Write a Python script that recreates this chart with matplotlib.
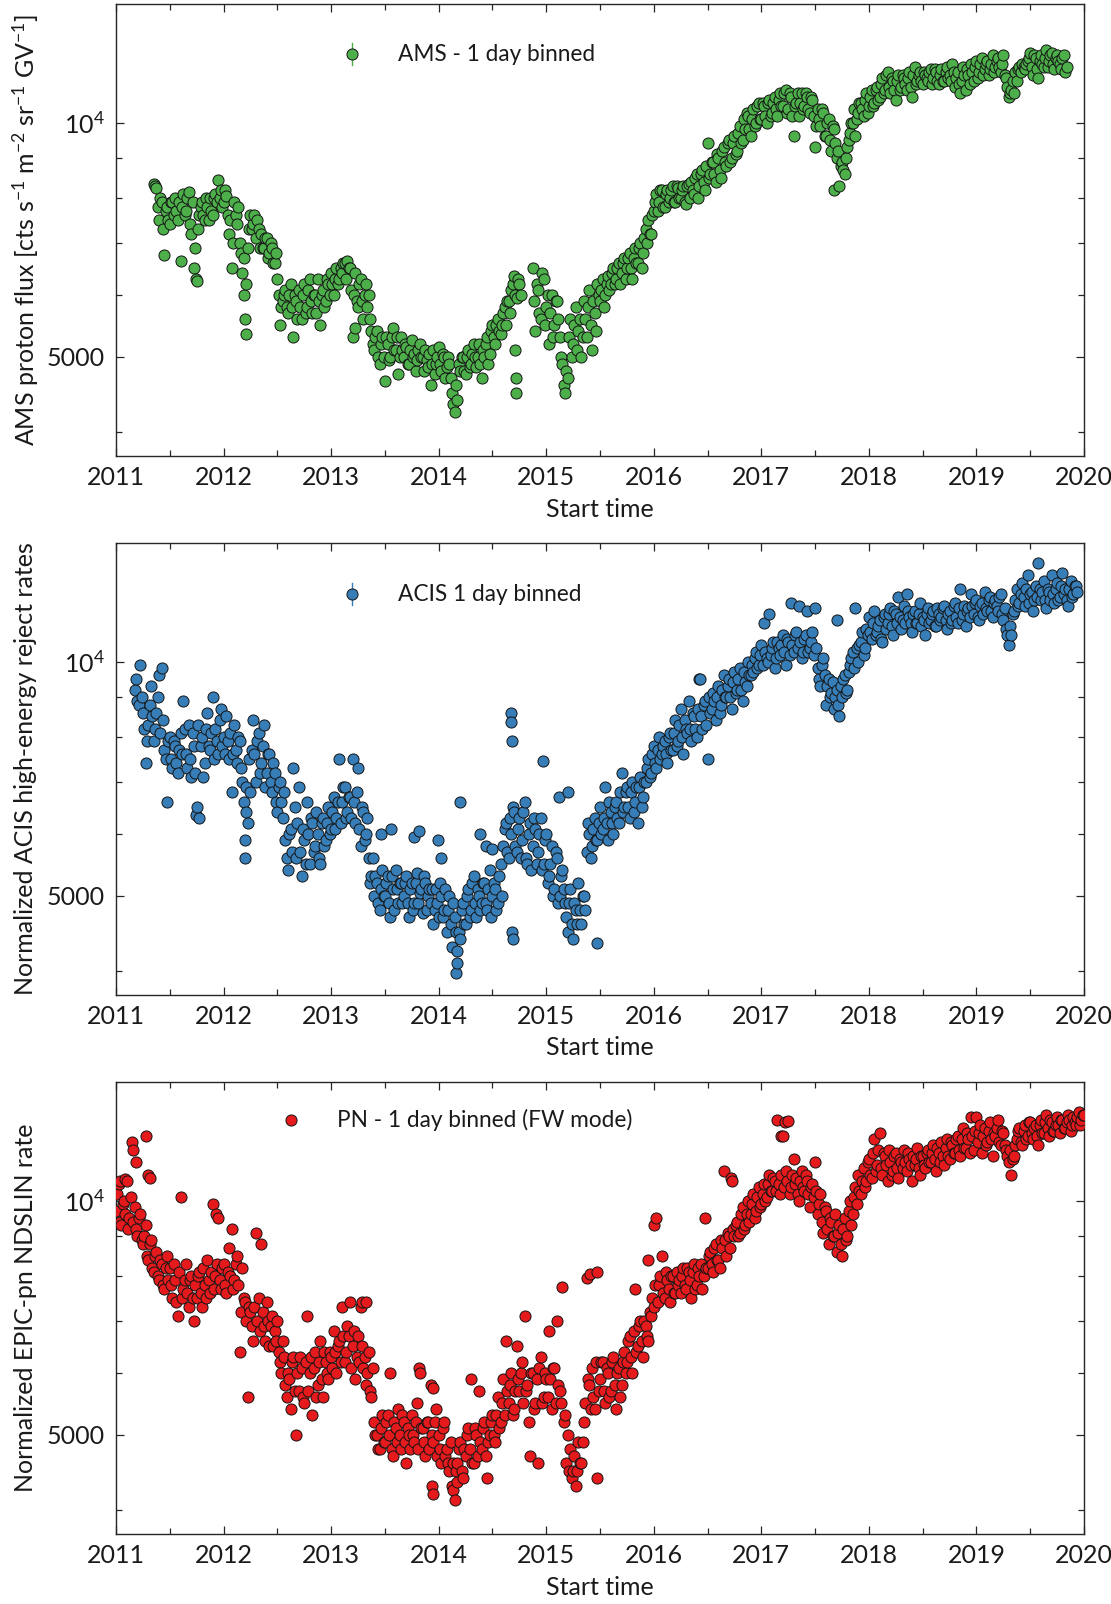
import numpy as np
import matplotlib
matplotlib.use("Agg")
import matplotlib.pyplot as plt
from matplotlib.ticker import FixedLocator, FixedFormatter, NullFormatter

plt.rcParams['font.family'] = ['Lato', 'DejaVu Sans']
plt.rcParams['mathtext.fontset'] = 'custom'
plt.rcParams['mathtext.rm'] = 'Lato'
plt.rcParams['mathtext.it'] = 'Lato:italic'
plt.rcParams['mathtext.bf'] = 'Lato:bold'

# Sampling step of the binned series (years); the *_B samples sit half a step later
STEP = 0.025
YEARS = list(range(2011, 2021))

# AMS proton flux, in thousands of cts s^-1 m^-2 sr^-1 GV^-1, starting 2011.35
AMS_START = 2011.35
AMS_FLUX_K = [
    8.35, 8.25, 7.5, 7.9, 6.75, 7.8, 7.4, 7.9, 8.0, 7.5,
    6.65, 8.1, 7.7, 8.15, 7.2, 6.5, 6.25, 7.6, 7.9, 7.5,
    7.8, 8.0, 7.6, 8.1, 8.45, 8.2, 7.9, 8.05, 7.2, 6.5,
    7.9, 7.4, 7.0, 6.4, 5.6, 6.9, 7.6, 7.4, 7.1, 7.3,
    7.2, 6.9, 7.1, 6.8, 6.9, 6.6, 6.3, 5.5, 5.9, 6.1,
    5.7, 6.2, 5.3, 5.9, 6.1, 5.6, 6.2, 5.8, 6.3, 5.7,
    6.0, 6.3, 5.5, 6.1, 5.9, 6.2, 6.4, 6.0, 6.5, 6.3,
    6.4, 6.6, 6.65, 6.5, 5.3, 6.4, 5.8, 6.3, 5.6, 6.2,
    6.0, 5.4, 5.1, 5.4, 4.9, 5.3, 4.65, 5.2, 5.0, 5.45,
    5.1, 4.75, 5.3, 5.0, 5.15, 4.9, 5.25, 5.05, 4.95, 5.2,
    5.0, 5.1, 4.85, 4.6, 5.1, 4.9, 5.15, 4.8, 5.0, 4.85,
    4.9, 4.5, 4.25, 4.4, 4.8, 5.0, 4.75, 5.1, 4.9, 5.2,
    4.85, 5.2, 4.7, 5.0, 5.3, 5.05, 5.5, 5.2, 5.6, 5.35,
    5.7, 5.5, 5.9, 6.1, 6.35, 5.95, 6.2, np.nan, np.nan, np.nan,
    np.nan, 6.5, 5.4, 6.1, 5.6, 6.3, 5.8, 5.2, 6.0, 5.5,
    5.9, 5.3, 4.9, 4.5, 4.7, 5.6, 5.2, 5.8, 5.4, 5.0,
    5.9, 5.3, 6.1, 5.1, 5.7, 6.2, 5.9, 6.3, 6.0, 6.35,
    6.2, 6.5, 6.3, 6.6, 6.4, 6.7, 6.5, 6.8, 6.3, 6.9,
    6.6, 7.0, 6.8, 7.3, 7.5, 7.2, 7.7, 8.1, 7.9, 8.2,
    7.8, 8.2, 8.0, 8.3, 7.9, 8.25, 8.0, 8.3, 7.85, 8.35,
    8.4, 8.1, 8.6, 8.3, 8.7, 8.2, 9.4, 8.6, 8.9, 8.4,
    9.0, 8.5, 9.3, 8.8, 9.5, 9.0, 9.6, 9.2, 9.9, 9.5,
    9.8, 10.2, 9.6, 10.4, 10.0, 10.6, 10.1, 10.5, 10.0, 10.7,
    10.3, 10.8, 10.2, 10.9, 10.5, 11.0, 10.4, 10.8, 9.6, 10.6,
    10.2, 10.9, 10.5, 10.8, 10.3, 10.7, 9.3, 10.4, 9.9, 10.3,
    9.6, 10.1, 9.2, 9.8, 9.0, 8.3, 8.9, 8.6, 9.3, 9.7,
    10.0, 9.6, 10.3, 10.6, 10.2, 10.9, 10.5, 11.0, 10.6, 11.1,
    10.8, 11.4, 11.0, 11.6, 10.9, 11.3, 10.7, 11.5, 11.1, 11.4,
    11.0, 11.6, 10.8, 11.8, 11.3, 11.6, 11.2, 11.5, 11.3, 11.7,
    11.4, 11.6, 11.2, 11.7, 11.3, 11.8, 11.5, 11.9, 11.1, 11.6,
    10.9, 11.8, 11.0, 11.5, 11.9, 11.3, 12.0, 11.6, 12.1, 11.7,
    12.0, 11.7, 12.2, 11.8, 12.1, 11.6, 12.2, 11.4, 10.8, 11.0,
    10.9, 11.3, 11.8, 11.9, 11.7, 12.0, 12.3, 11.5, 12.1, 11.4,
    12.2, 11.8, 12.4, 12.0, 12.3, 11.7, 12.2, 11.9, 12.1, 11.6,
]
AMS_FLUX_K_B = [
    8.3, 7.8, 8.0, 7.3, 7.7, 7.5, 7.9, 7.6, 7.7, 7.9,
    7.8, 7.6, 8.0, 7.4, 7.9, 6.9, 7.3, 7.8, 7.6, 8.0,
    7.5, 7.7, 8.0, 7.9, 8.0, 7.8, 8.2, 7.6, 7.5, 7.0,
    7.6, 7.8, 6.8, 6.7, 6.2, 7.3, 7.3, 7.6, 7.5, 6.9,
    6.9, 7.1, 6.7, 7.0, 6.6, 6.8, 6.0, 5.8, 6.0, 5.8,
    6.0, 5.8, 6.0, 5.6, 5.8, 6.0, 5.7, 6.1, 5.9, 6.0,
    5.7, 5.9, 6.0, 5.8, 6.3, 6.0, 6.2, 6.3, 6.2, 6.5,
    6.6, 6.3, 6.5, 6.1, 6.0, 5.9, 6.2, 5.9, 6.0, 5.8,
    5.6, 5.2, 5.3, 5.0, 5.2, 5.0, 5.3, 4.95, 5.3, 5.1,
    5.3, 5.0, 5.1, 5.2, 4.9, 5.1, 5.0, 4.8, 5.1, 5.0,
    4.8, 4.95, 5.05, 4.9, 4.75, 5.0, 4.9, 5.05, 4.7, 5.0,
    4.7, 4.35, 4.6, 4.9, 5.0, 4.8, 5.0, 4.85, 5.05, 5.0,
    5.0, 4.9, 5.1, 5.2, 4.9, 5.4, 5.3, 5.5, 5.4, 5.5,
    5.8, 5.9, 5.7, 6.2, 6.0, 6.3, 6.0, np.nan, np.nan, np.nan,
    np.nan, 5.9, 6.2, 5.7, 6.4, 5.5, 6.0, 5.7, 5.3, 5.9,
    5.6, 5.0, 4.6, 4.8, 5.3, 5.0, 5.5, 5.1, 5.6, 5.3,
    5.6, 5.8, 5.5, 5.9, 5.4, 6.0, 6.1, 5.8, 6.2, 6.1,
    6.4, 6.2, 6.5, 6.2, 6.6, 6.3, 6.7, 6.5, 6.7, 6.6,
    6.9, 6.5, 7.1, 7.0, 7.2, 7.6, 7.9, 7.7, 8.2, 7.8,
    8.1, 7.9, 8.2, 7.9, 8.3, 8.0, 8.2, 7.9, 8.3, 8.0,
    8.2, 8.5, 8.0, 8.6, 8.4, 8.8, 8.5, 8.9, 8.6, 9.1,
    8.7, 9.2, 8.9, 9.4, 8.9, 9.4, 9.1, 9.7, 9.4, 10.1,
    10.3, 9.8, 10.1, 9.9, 10.5, 10.1, 10.6, 10.2, 10.6, 10.2,
    10.6, 10.4, 10.7, 10.5, 10.9, 10.3, 10.9, 10.2, 10.5, 10.9,
    10.6, 10.4, 10.9, 10.4, 10.8, 10.2, 9.9, 10.1, 10.4, 9.6,
    10.0, 9.5, 9.9, 9.4, 9.2, 8.8, 8.7, 9.0, 9.5, 10.0,
    10.4, 10.1, 10.6, 10.4, 10.7, 10.3, 10.8, 10.5, 11.0, 10.7,
    11.2, 10.9, 11.5, 11.1, 11.4, 11.0, 11.3, 11.0, 11.5, 11.2,
    11.4, 11.1, 11.5, 11.2, 11.5, 11.3, 11.6, 11.4, 11.6, 11.2,
    11.7, 11.3, 11.5, 11.3, 11.6, 11.4, 11.3, 11.6, 11.4, 11.2,
    11.3, 11.5, 11.7, 11.2, 11.6, 11.8, 11.4, 11.9, 11.5, 11.9,
    11.5, 11.9, 11.6, 12.0, 11.8, 11.9, 11.5, 11.1, 10.9, 11.3,
    11.6, 11.7, 11.6, 11.8, 11.9, 12.1, 11.8, 12.2, 11.7, 12.0,
    11.9, 12.1, 11.8, 12.2, 11.9, 12.1, 12.0, 11.7, 12.2, 11.8,
]
AMS_EXTRA_T = [2011.74, 2012.19, 2012.21, 2013.22, 2014.71, 2014.72, 2014.72, 2017.68]
AMS_EXTRA_K = [6.3, 6.0, 5.35, 5.45, 5.1, 4.7, 4.5, 8.2]

# ACIS high-energy reject rate (normalized, thousands), starting 2011.175
ACIS_START = 2011.175
ACIS_RATE_K = [
    9.2, 8.9, 9.9, 8.6, 7.4, 8.3, 9.3, 7.9, 8.6, 9.6,
    9.8, 7.7, 6.6, 8.0, 7.3, 7.8, 7.2, 8.1, 8.9, 7.6,
    8.3, 7.1, 7.8, 6.5, 6.3, 8.0, 7.4, 8.6, 7.7, 9.0,
    8.2, 7.6, 8.7, 8.0, 8.5, 7.5, 6.8, 8.3, 7.4, 7.9,
    7.0, 5.6, 6.2, 6.8, 8.4, 7.0, 8.1, 7.4, 8.3, 7.2,
    7.6, 6.8, 7.2, 6.4, 7.0, 6.3, 5.9, 5.4, 6.1, 7.3,
    5.6, 6.9, 5.3, 5.9, 6.6, 5.5, 6.2, 5.8, 6.0, 5.5,
    6.3, 5.9, 6.5, 6.1, 6.7, 6.3, 7.5, 6.6, 6.9, 6.4,
    6.7, 7.5, 6.2, 7.3, 5.8, 6.4, 6.0, 5.6, 5.3, 5.0,
    5.2, 4.8, 5.4, 5.0, 5.3, 4.7, 5.1, 5.4, 4.9, 5.2,
    5.0, 5.3, 4.7, 5.2, 4.9, 5.35, 5.05, 4.75, 5.2, 5.0,
    4.9, 4.6, 5.1, 4.7, 5.0, 4.8, 4.5, 5.0, 4.3, 4.7,
    4.1, 4.4, 4.9, 4.6, 5.1, 4.8, 5.3, 4.7, 5.0, 4.9,
    5.2, 4.8, 5.4, 5.0, 5.1, 4.9, 5.5, 5.8, 6.2, 5.6,
    6.0, 6.4, 5.7, 6.3, 5.9, 6.6, 5.5, 6.2, 5.8, 6.1,
    5.7, 6.3, 5.5, 6.0, 5.3, 5.8, 5.1, 5.6, 5.0, 5.4,
    4.9, 4.5, 5.1, 4.4, 4.8, 5.2, 4.6, 5.0, 5.7, 6.0,
    5.8, 6.3, 5.9, 6.5, 6.1, 6.9, 5.9, 6.4, 6.0, 6.6,
    6.2, 7.2, 6.5, 6.9, 6.3, 7.0, 6.6, 6.2, 7.1, 6.7,
    7.0, 7.5, 7.2, 7.8, 7.3, 8.0, 7.6, 7.9, 7.4, 8.1,
    7.7, 8.4, 7.9, 8.7, 7.6, 8.2, 8.9, 7.9, 8.5, 8.0,
    9.5, 8.2, 8.9, 7.5, 8.6, 9.1, 8.4, 9.3, 8.8, 9.6,
    9.0, 9.5, 8.7, 9.7, 9.2, 9.8, 8.9, 9.4, 10.0, 9.6,
    9.7, 10.3, 9.9, 10.5, 11.2, 10.1, 11.5, 10.4, 9.8, 10.6,
    10.2, 10.8, 9.9, 10.6, 11.9, 10.3, 10.9, 11.8, 10.1, 10.7,
    11.6, 10.4, 10.9, 11.7, 9.8, 9.3, 10.1, 8.8, 9.5, 9.1,
    8.7, 9.2, 8.5, 9.0, 9.6, 9.2, 9.9, 10.3, 11.7, 10.0,
    10.6, 10.2, 11.0, 11.4, 10.7, 11.6, 10.9, 11.3, 10.6, 11.5,
    11.2, 11.7, 10.8, 11.5, 12.1, 11.0, 11.8, 12.2, 11.4, 10.9,
    11.6, 11.2, 11.9, 11.4, 10.8, 11.7, 11.3, 11.6, 11.1, 11.5,
    11.4, 11.8, 11.0, 11.6, 11.3, 11.9, 11.2, 12.4, 11.5, 11.1,
    11.7, 12.2, 11.5, 12.0, 11.3, 11.9, 12.3, 11.6, 12.1, 11.4,
    12.0, 11.6, 12.2, 11.3, 11.0, 10.5, 10.8, 11.6, 12.4, 11.9,
    12.6, 11.8, 12.9, 12.2, 11.6, 12.5, 13.4, 12.0, 12.7, 11.7,
    12.3, 12.9, 11.9, 12.6, 12.1, 13.0, 12.4, 11.8, 12.7, 12.2,
    12.5,
]
ACIS_RATE_K_B = [
    9.5, 8.8, 9.0, 8.2, 7.9, 8.8, 8.5, 8.2, 9.0, 8.1,
    8.4, 7.5, 7.9, 7.5, 7.9, 7.4, 7.7, 7.6, 8.2, 7.3,
    7.5, 8.1, 7.2, 8.3, 7.8, 7.1, 8.2, 7.8, 8.1, 7.5,
    7.9, 8.4, 7.8, 7.6, 7.9, 8.1, 7.6, 7.7, 8.0, 7.3,
    6.6, 6.9, 7.5, 7.7, 7.6, 7.9, 7.2, 7.8, 6.9, 7.6,
    7.0, 7.4, 6.6, 6.9, 6.6, 6.8, 5.6, 6.0, 5.7, 6.5,
    6.2, 5.7, 6.1, 5.5, 6.0, 6.3, 5.7, 6.4, 5.6, 6.2,
    5.8, 6.2, 6.0, 6.4, 6.1, 6.6, 6.2, 6.9, 6.3, 6.7,
    6.3, 6.6, 6.8, 6.1, 6.5, 5.9, 6.3, 5.2, 5.6, 5.3,
    4.9, 5.1, 5.0, 5.2, 4.9, 5.3, 4.8, 5.1, 5.2, 4.9,
    5.2, 4.9, 5.1, 4.8, 5.2, 4.9, 5.1, 5.3, 4.8, 5.1,
    5.1, 4.8, 4.9, 5.2, 4.7, 5.1, 4.8, 4.6, 4.9, 4.5,
    4.5, 4.8, 4.6, 5.0, 4.7, 5.2, 4.9, 5.1, 4.8, 5.2,
    4.9, 5.1, 4.7, 5.2, 4.8, 5.3, 5.0, 6.1, 5.7, 6.3,
    6.5, 5.8, 6.1, 5.6, 6.4, 5.6, 6.0, 5.4, 6.3, 5.5,
    6.0, 5.4, 5.9, 5.2, 5.5, 5.0, 5.7, 4.9, 5.3, 5.1,
    4.7, 4.9, 4.6, 4.9, 4.6, 4.8, 5.0, 4.8, 6.2, 5.6,
    6.1, 5.9, 6.2, 6.0, 6.3, 6.2, 6.6, 6.2, 6.5, 6.3,
    6.8, 6.4, 6.8, 6.5, 6.8, 6.4, 6.9, 6.9, 6.5, 7.0,
    7.3, 7.1, 7.6, 7.4, 7.7, 7.5, 7.8, 7.6, 8.0, 7.7,
    8.1, 7.8, 8.3, 8.0, 8.4, 8.1, 8.2, 8.6, 8.2, 8.7,
    8.5, 8.8, 8.3, 9.0, 8.7, 8.9, 9.0, 8.6, 9.2, 9.0,
    9.3, 9.0, 9.4, 9.1, 9.5, 9.2, 9.7, 9.3, 9.6, 9.9,
    10.1, 9.8, 10.2, 9.9, 10.3, 10.0, 10.2, 10.6, 10.1, 10.4,
    10.5, 10.3, 10.7, 10.2, 10.5, 10.8, 10.4, 10.6, 10.3, 10.8,
    10.3, 10.6, 10.2, 10.4, 9.5, 9.9, 9.6, 9.3, 9.0, 9.4,
    9.0, 8.8, 9.3, 9.5, 9.1, 9.7, 10.1, 9.8, 10.4, 10.5,
    10.9, 10.4, 10.8, 10.9, 11.2, 10.8, 11.1, 10.7, 11.4, 11.0,
    11.5, 11.1, 11.6, 11.2, 11.4, 11.3, 11.2, 11.6, 11.2, 11.5,
    11.2, 11.5, 11.1, 11.3, 11.5, 11.2, 11.5, 11.1, 11.7, 11.3,
    11.7, 11.3, 11.5, 11.2, 11.8, 11.4, 11.7, 11.3, 11.8, 11.6,
    11.4, 11.8, 11.9, 11.4, 11.8, 11.5, 11.7, 12.0, 11.6, 11.9,
    11.8, 12.1, 11.5, 11.7, 10.8, 11.1, 11.5, 12.0, 11.8, 12.2,
    12.1, 12.4, 11.9, 12.3, 12.0, 12.1, 12.4, 12.3, 12.0, 12.4,
    12.0, 12.2, 12.4, 12.0, 12.5, 12.2, 12.0, 12.4, 12.1, 12.5,
    12.3,
]
ACIS_EXTRA_T = [2011.74, 2012.20, 2012.21, 2013.46, 2013.56, 2013.77, 2013.82,
                2013.99, 2014.02, 2014.16, 2014.17, 2014.20, 2014.38, 2014.44,
                2014.50, 2014.67, 2014.67, 2014.68, 2014.68, 2014.69, 2014.97,
                2015.12, 2015.20, 2015.47, 2016.43, 2017.70]
ACIS_EXTRA_K = [6.35, 5.9, 6.4, 6.0, 6.1, 5.95, 6.05,
                5.9, 5.6, 3.98, 4.25, 6.6, 6.0, 5.8,
                5.75, 8.6, 8.35, 7.9, 4.5, 4.4, 7.45,
                6.7, 6.8, 4.35, 9.5, 11.3]

# EPIC-pn NDSLIN rate (normalized, thousands), starting 2011.0
PN_START = 2011.0
PN_RATE_K = [
    9.7, 10.5, 9.3, 10.0, 10.6, 9.5, 11.9, 9.8, 9.0, 9.6,
    8.8, 9.3, 8.4, 8.9, 8.1, 8.6, 7.9, 8.3, 7.7, 8.5,
    8.2, 7.5, 7.9, 7.1, 10.1, 7.7, 8.3, 7.3, 8.0, 7.0,
    7.5, 8.1, 7.3, 7.8, 8.4, 7.6, 9.9, 8.0, 9.5, 7.7,
    8.3, 7.6, 8.7, 9.2, 7.9, 8.5, 6.4, 8.2, 7.4, 5.6,
    7.2, 6.6, 9.1, 7.5, 8.8, 6.9, 7.4, 6.5, 7.1, 6.8,
    7.0, 6.2, 6.6, 5.8, 6.0, 5.4, 6.3, 5.0, 5.7, 6.1,
    5.5, 7.1, 6.0, 5.3, 6.4, 5.8, 6.6, 5.6, 6.2, 5.9,
    6.3, 6.8, 6.0, 6.6, 7.3, 6.2, 6.9, 7.4, 6.5, 5.9,
    6.7, 7.3, 6.1, 5.8, 6.4, 5.6, 5.2, 5.0, 4.8, 5.3,
    4.9, 5.3, 6.0, 4.7, 5.1, 5.4, 4.8, 5.2, 4.6, 5.0,
    5.3, 4.9, 5.5, 6.0, 5.1, 4.7, 5.2, 5.8, 4.9, 5.4,
    5.0, 4.6, 5.2, 4.8, 4.5, 4.3, 4.13, 4.6, 4.9, 4.4,
    4.7, 5.1, 5.9, 4.6, 5.0, 5.7, 4.8, 5.2, 4.4, 5.0,
    5.3, 4.9, 5.6, 5.2, 5.9, 6.6, 5.5, 6.0, 5.4, 6.5,
    5.7, 6.2, 7.1, 5.8, 4.7, 6.0, 5.5, 4.6, 6.3, 5.6,
    5.9, 6.8, 5.4, 6.1, 7.0, 5.7, 7.75, 5.3, 5.0, 4.8,
    4.5, 4.3, 4.9, 4.6, 5.2, 7.95, 5.8, 6.1, 5.4, 8.1,
    5.9, 6.2, 5.5, 6.0, 5.7, 6.3, 5.4, 6.1, 5.8, 6.4,
    6.2, 6.7, 6.0, 7.7, 6.5, 7.0, 6.3, 6.9, 6.6, 7.1,
    7.3, 9.5, 7.8, 8.5, 7.5, 7.9, 7.4, 8.0, 7.6, 7.8,
    7.6, 8.2, 7.7, 8.1, 7.5, 8.3, 7.8, 8.0, 7.7, 9.5,
    8.2, 8.6, 8.1, 8.8, 8.4, 8.9, 10.9, 8.5, 9.0, 10.6,
    9.0, 9.4, 9.1, 9.8, 9.3, 10.0, 9.6, 10.2, 9.7, 10.4,
    9.9, 10.5, 10.1, 10.8, 10.3, 10.6, 12.7, 10.2, 12.1, 10.9,
    12.65, 10.4, 11.3, 10.7, 10.0, 10.9, 10.3, 10.6, 9.8, 10.5,
    11.2, 9.6, 10.2, 9.1, 9.7, 8.8, 9.4, 9.0, 8.6, 9.3,
    8.5, 9.5, 9.0, 10.0, 9.6, 10.4, 10.8, 10.2, 11.0, 10.6,
    11.3, 10.7, 12.0, 11.1, 12.2, 10.8, 11.4, 10.6, 11.2, 10.9,
    11.5, 10.7, 11.2, 11.6, 10.9, 11.3, 10.6, 11.1, 11.7, 10.8,
    11.4, 11.0, 11.6, 11.2, 11.8, 10.9, 11.5, 11.9, 11.1, 12.0,
    11.3, 11.8, 11.5, 12.1, 11.4, 12.4, 11.7, 12.0, 12.8, 11.6,
    12.8, 12.2, 11.5, 12.4, 11.9, 12.6, 11.4, 12.1, 12.7, 11.8,
    12.2, 11.6, 11.2, 10.8, 11.4, 12.0, 12.4, 11.8, 12.5, 12.1,
    12.6, 12.0, 12.5, 11.8, 12.7, 12.2, 12.9, 12.1, 12.6, 12.3,
    12.8, 12.2, 12.7, 12.4, 12.9, 12.3, 12.8, 12.5, 13.0, 12.7,
    12.9,
]
PN_RATE_K_B = [
    10.2, 9.4, 9.9, 9.6, 9.2, 10.1, 9.4, 9.2, 9.5, 8.9,
    9.0, 8.5, 8.8, 8.2, 8.5, 8.0, 8.4, 7.8, 8.2, 7.9,
    7.8, 8.3, 7.4, 8.1, 7.5, 7.9, 7.6, 7.9, 7.5, 7.8,
    8.0, 7.6, 8.2, 7.5, 7.9, 8.1, 7.7, 8.3, 7.9, 8.2,
    7.8, 8.1, 8.0, 7.7, 8.3, 7.8, 7.2, 7.5, 7.0, 7.3,
    6.9, 7.3, 7.0, 6.8, 7.2, 6.6, 7.0, 6.9, 6.5, 6.6,
    6.4, 6.0, 6.3, 5.6, 5.9, 6.2, 5.7, 6.0, 6.3, 5.6,
    6.2, 5.7, 6.3, 6.1, 5.6, 6.2, 5.9, 6.4, 6.0, 6.4,
    6.1, 6.4, 6.5, 6.2, 6.7, 6.4, 6.7, 6.1, 6.8, 6.3,
    6.2, 6.5, 6.3, 6.0, 5.7, 6.1, 5.0, 4.8, 5.1, 4.9,
    5.2, 5.0, 4.8, 5.2, 4.9, 5.0, 5.3, 4.9, 5.1, 4.8,
    5.0, 5.2, 4.8, 5.1, 4.9, 5.2, 4.8, 5.0, 5.2, 4.7,
    4.8, 5.1, 4.7, 4.6, 4.9, 4.6, 4.5, 4.8, 4.5, 4.8,
    5.0, 4.8, 4.6, 5.1, 4.7, 4.9, 5.1, 4.7, 4.9, 5.2,
    5.0, 5.3, 5.1, 5.5, 5.3, 5.7, 5.8, 5.3, 5.7, 5.9,
    6.0, 5.5, 5.7, 5.2, 6.0, 5.4, 5.9, 6.1, 5.5, 6.0,
    5.6, 5.9, 6.1, 5.5, 5.8, 5.5, 5.2, 4.6, 4.5, 4.4,
    4.7, 4.5, 4.6, 4.9, 5.5, 5.9, 5.4, 5.6, 6.2, 5.7,
    6.2, 5.7, 6.1, 5.6, 6.2, 5.8, 6.0, 5.6, 6.2, 6.0,
    6.6, 6.3, 6.8, 6.4, 6.9, 6.6, 7.0, 6.7, 7.2, 7.5,
    7.8, 7.4, 8.0, 7.6, 8.1, 7.7, 8.0, 7.6, 8.1, 7.9,
    8.0, 7.8, 8.2, 7.9, 8.1, 7.7, 8.2, 8.3, 8.0, 8.2,
    8.5, 8.3, 8.7, 8.4, 8.2, 8.7, 8.9, 9.1, 8.7, 9.2,
    9.3, 9.0, 9.6, 9.2, 9.6, 9.4, 9.9, 9.5, 10.1, 9.8,
    10.2, 10.0, 10.5, 10.3, 10.7, 10.3, 10.5, 10.8, 10.4, 10.6,
    10.2, 10.8, 10.5, 10.2, 10.6, 10.4, 10.8, 10.2, 10.4, 10.1,
    10.3, 9.9, 9.4, 9.8, 9.2, 9.5, 9.0, 9.6, 9.1, 8.8,
    9.2, 8.9, 9.7, 9.3, 10.1, 9.9, 10.3, 10.6, 10.4, 11.2,
    10.8, 11.5, 10.9, 11.6, 11.0, 11.5, 11.1, 11.6, 10.8, 11.4,
    11.0, 11.3, 11.0, 11.2, 11.5, 11.1, 11.4, 11.3, 11.0, 11.4,
    11.1, 11.5, 11.2, 11.5, 11.3, 11.7, 11.2, 11.4, 11.7, 11.4,
    11.9, 11.5, 12.0, 11.6, 12.0, 11.7, 12.2, 11.5, 12.1, 12.3,
    11.9, 12.5, 12.1, 11.8, 12.3, 12.0, 12.2, 12.4, 11.9, 12.3,
    11.8, 11.4, 11.6, 11.3, 11.8, 12.3, 11.9, 12.3, 12.0, 12.6,
    12.2, 12.4, 12.1, 12.5, 12.2, 12.6, 12.4, 12.7, 12.3, 12.5,
    12.5, 12.7, 12.4, 12.6, 12.7, 12.5, 12.6, 12.8, 12.5, 12.9,
]
PN_EXTRA_T = [2011.04, 2011.08, 2011.16, 2011.19, 2011.28, 2011.30, 2011.32,
              2011.93, 2013.29, 2013.32, 2013.82, 2013.94, 2013.95, 2013.95,
              2014.13, 2014.17, 2015.41, 2015.47, 2015.95, 2016.00, 2016.72,
              2017.18, 2017.22]
PN_EXTRA_K = [10.6, 10.65, 11.6, 11.2, 12.1, 10.8, 10.7,
              9.6, 7.4, 7.4, 6.1, 4.3, 4.2, 5.75,
              4.25, 4.35, 8.05, 4.4, 8.4, 9.3, 10.7,
              12.1, 12.6]

GREEN = '#4DAF4A'
BLUE = '#377EB8'
RED = '#E41A1C'
EDGE = '#141414'
AXCOL = '#262626'
TXT = '#1a1a1a'
FS = 18
LEG_FS = 16.3
MS = 8.0

fig = plt.figure(figsize=(11.11, 16.04), dpi=100)

LEFT, WIDTH, HEIGHT = 0.1044, 0.8713, 0.2818
BOTTOMS = [0.7157, 0.3797, 0.0436]


def series(start, vals_a, vals_b, ex_t, ex_k):
    ta = start + STEP * np.arange(len(vals_a))
    tb = start + STEP / 2 + STEP * np.arange(len(vals_b))
    tt = np.concatenate([ta, tb, np.asarray(ex_t)])
    vv = np.concatenate([np.asarray(vals_a, dtype=float),
                         np.asarray(vals_b, dtype=float),
                         np.asarray(ex_k, dtype=float)]) * 1000.0
    order = np.argsort(tt, kind='stable')
    return tt[order], vv[order]


def panel(bottom, start, vals_a, vals_b, ex_t, ex_k, color, ylabel,
          leg_text, leg_xy, errbar):
    ax = fig.add_axes([LEFT, bottom, WIDTH, HEIGHT])
    t, v = series(start, vals_a, vals_b, ex_t, ex_k)
    ax.scatter(t, v, s=MS ** 2, c=color, edgecolors=EDGE, linewidths=0.7, zorder=3)

    ax.set_yscale('log')
    ax.set_xlim(2011, 2020)
    ax.set_ylim(3730, 14200)
    ax.yaxis.set_major_locator(FixedLocator([5000, 10000]))
    ax.yaxis.set_major_formatter(FixedFormatter(['5000', r'$10^4$']))
    ax.yaxis.set_minor_locator(FixedLocator([4000, 6000, 7000, 8000, 9000]))
    ax.yaxis.set_minor_formatter(NullFormatter())
    ax.xaxis.set_major_locator(FixedLocator(YEARS))
    ax.xaxis.set_major_formatter(FixedFormatter([str(y) for y in YEARS]))
    ax.xaxis.set_minor_locator(FixedLocator([y + 0.5 for y in YEARS[:-1]]))

    ax.tick_params(which='both', direction='in', top=True, right=True,
                   colors=AXCOL, labelcolor=TXT, labelsize=FS, width=0.9)
    ax.tick_params(which='major', length=6)
    ax.tick_params(which='minor', length=4)
    ax.tick_params(axis='x', which='major', pad=7)
    ax.tick_params(axis='y', which='major', pad=8)
    for sp in ax.spines.values():
        sp.set_color(AXCOL)
        sp.set_linewidth(1.0)

    ax.text(0.5, -53 / 452, 'Start time', transform=ax.transAxes,
            ha='center', va='center', fontsize=FS, color=TXT)
    fig.text(26 / 1111, bottom + HEIGHT / 2, ylabel, rotation=90,
             ha='center', va='center', fontsize=FS, color=TXT)

    lx, ly = leg_xy
    if errbar:
        ax.plot([lx, lx], [ly - 0.024, ly + 0.024], transform=ax.transAxes,
                color=color, lw=1.0, zorder=4)
    ax.plot([lx], [ly], 'o', ms=MS, mfc=color, mec=EDGE, mew=0.7,
            transform=ax.transAxes, zorder=5)
    ax.text(lx + 0.0475, ly, leg_text, transform=ax.transAxes,
            ha='left', va='center', fontsize=LEG_FS, color=TXT)
    return ax


panel(BOTTOMS[0], AMS_START, AMS_FLUX_K, AMS_FLUX_K_B, AMS_EXTRA_T, AMS_EXTRA_K,
      GREEN, r'AMS proton flux [cts s$^{-1}$ m$^{-2}$ sr$^{-1}$ GV$^{-1}$]',
      'AMS - 1 day binned', (0.2438, 0.889), True)
panel(BOTTOMS[1], ACIS_START, ACIS_RATE_K, ACIS_RATE_K_B, ACIS_EXTRA_T, ACIS_EXTRA_K,
      BLUE, 'Normalized ACIS high-energy reject rates',
      'ACIS 1 day binned', (0.2438, 0.887), True)
panel(BOTTOMS[2], PN_START, PN_RATE_K, PN_RATE_K_B, PN_EXTRA_T, PN_EXTRA_K,
      RED, 'Normalized EPIC-pn NDSLIN rate',
      'PN - 1 day binned (FW mode)', (0.1808, 0.916), False)

fig.savefig('out.png', dpi=100)
